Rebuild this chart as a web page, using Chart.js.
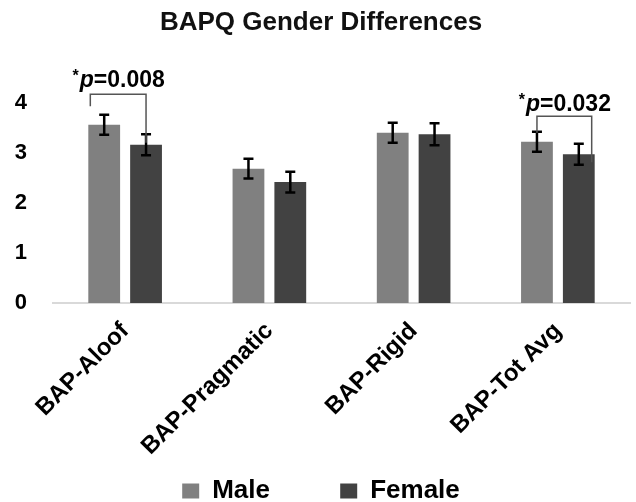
<!DOCTYPE html>
<html>
<head>
<meta charset="utf-8">
<script src="https://cdn.jsdelivr.net/npm/chart.js@4.4.1/dist/chart.umd.min.js"></script>
<style>
  body { margin: 0; background: #fff; }
  #wrap { width: 636px; height: 502px; }
</style>
</head>
<body>
<div id="wrap"><canvas id="chart"></canvas></div>
<script>
const categories = ['BAP-Aloof', 'BAP-Pragmatic', 'BAP-Rigid', 'BAP-Tot Avg'];
const maleValues = [3.57, 2.69, 3.41, 3.23];
const femaleValues = [3.17, 2.42, 3.38, 2.98];
const maleErrors = [0.2, 0.2, 0.2, 0.2];
const femaleErrors = [0.21, 0.21, 0.22, 0.21];
const yTicks = [0, 1, 2, 3, 4];

// significance brackets: category, heights in data units, p value
const brackets = [
  { cat: 0, top: 4.18, leftFoot: 3.94, rightFoot: 3.21, text: '0.008', textY: 4.49, side: 'left' },
  { cat: 3, top: 3.74, leftFoot: 3.41, rightFoot: 2.82, text: '0.032', textY: 4.0, side: 'right' }
];

const FONT = "'Liberation Sans', Arial, sans-serif";

const errorBars = {
  id: 'errorBars',
  afterDatasetsDraw(chart) {
    const ctx = chart.ctx;
    const y = chart.scales.y;
    const errs = [maleErrors, femaleErrors];
    ctx.save();
    ctx.strokeStyle = '#000';
    ctx.lineWidth = 2.5;
    chart.data.datasets.forEach((ds, di) => {
      const meta = chart.getDatasetMeta(di);
      meta.data.forEach((bar, i) => {
        const v = ds.data[i];
        const hi = y.getPixelForValue(v + errs[di][i]);
        const lo = y.getPixelForValue(v - errs[di][i]);
        ctx.beginPath();
        ctx.moveTo(bar.x, hi); ctx.lineTo(bar.x, lo);
        ctx.moveTo(bar.x - 5, hi); ctx.lineTo(bar.x + 5, hi);
        ctx.moveTo(bar.x - 5, lo); ctx.lineTo(bar.x + 5, lo);
        ctx.stroke();
      });
    });
    ctx.restore();
  }
};

const sigBrackets = {
  id: 'sigBrackets',
  afterDraw(chart) {
    const ctx = chart.ctx;
    const y = chart.scales.y;
    const m = chart.getDatasetMeta(0).data;
    const f = chart.getDatasetMeta(1).data;
    ctx.save();
    brackets.forEach(b => {
      const mb = m[b.cat], fb = f[b.cat];
      const x1 = b.side === 'left' ? mb.x - mb.width / 2 + 2 : mb.x;
      const x2 = b.side === 'left' ? fb.x : fb.x + fb.width / 2 - 3;
      ctx.strokeStyle = '#555';
      ctx.lineWidth = 1.5;
      ctx.beginPath();
      ctx.moveTo(x1, y.getPixelForValue(b.leftFoot));
      ctx.lineTo(x1, y.getPixelForValue(b.top));
      ctx.lineTo(x2, y.getPixelForValue(b.top));
      ctx.lineTo(x2, y.getPixelForValue(b.rightFoot));
      ctx.stroke();

      // "*p=0.008"
      const ty = y.getPixelForValue(b.textY);
      ctx.fillStyle = '#000';
      ctx.textBaseline = 'alphabetic';
      const fStar = 'bold 16px ' + FONT;
      const fP = 'italic bold 23px ' + FONT;
      const fRest = 'bold 23px ' + FONT;
      ctx.font = fStar; const wS = ctx.measureText('*').width;
      ctx.font = fP; const wP = ctx.measureText('p').width;
      ctx.font = fRest; const wR = ctx.measureText('=' + b.text).width;
      const cx = (x1 + x2) / 2;
      let x = cx - (wS + wP + wR) / 2;
      const base = ty + 8;
      ctx.font = fStar; ctx.fillText('*', x, base - 6); x += wS + 1;
      ctx.font = fP; ctx.fillText('p', x, base); x += wP;
      ctx.font = fRest; ctx.fillText('=' + b.text, x, base);
    });
    ctx.restore();
  }
};

new Chart(document.getElementById('chart'), {
  type: 'bar',
  data: {
    labels: categories,
    datasets: [
      { label: 'Male', data: maleValues, backgroundColor: '#808080', borderWidth: 0 },
      { label: 'Female', data: femaleValues, backgroundColor: '#424242', borderWidth: 0 }
    ]
  },
  options: {
    responsive: true,
    maintainAspectRatio: false,
    animation: false,
    datasets: { bar: { categoryPercentage: 0.58, barPercentage: 0.76 } },
    layout: { padding: { top: 0, right: 6, left: 12, bottom: -12 } },
    plugins: {
      title: {
        display: true,
        text: 'BAPQ Gender Differences',
        color: '#111',
        font: { family: FONT, size: 26, weight: 'bold' },
        padding: { top: 7, bottom: 65 }
      },
      legend: {
        position: 'bottom',
        labels: {
          color: '#000',
          font: { family: FONT, size: 26, weight: 'bold' },
          boxWidth: 17,
          boxHeight: 15,
          padding: 0,
          generateLabels(chart) {
            const items = Chart.defaults.plugins.legend.labels.generateLabels(chart);
            // widen the gap between the two entries
            items.forEach((it, i) => { if (i < items.length - 1) it.text += '\u2003\u2003\u2002\u2009'; });
            return items;
          }
        }
      },
      tooltip: { enabled: false }
    },
    scales: {
      x: {
        grid: { display: false },
        border: { display: true, color: '#d9d9d9', width: 2 },
        afterFit(scale) { scale.height = 175; },
        ticks: {
          color: '#000',
          font: { family: FONT, size: 24, weight: 'bold' },
          maxRotation: 45,
          minRotation: 45,
          padding: 6
        }
      },
      y: {
        min: 0,
        max: 4,
        afterBuildTicks(scale) { scale.ticks = yTicks.map(v => ({ value: v })); },
        afterFit(scale) { scale.width = 41; },
        grid: { display: false },
        border: { display: false },
        ticks: {
          color: '#000',
          font: { family: FONT, size: 22, weight: 'bold' },
          padding: 18
        }
      }
    }
  },
  plugins: [errorBars, sigBrackets]
});
</script>
</body>
</html>
